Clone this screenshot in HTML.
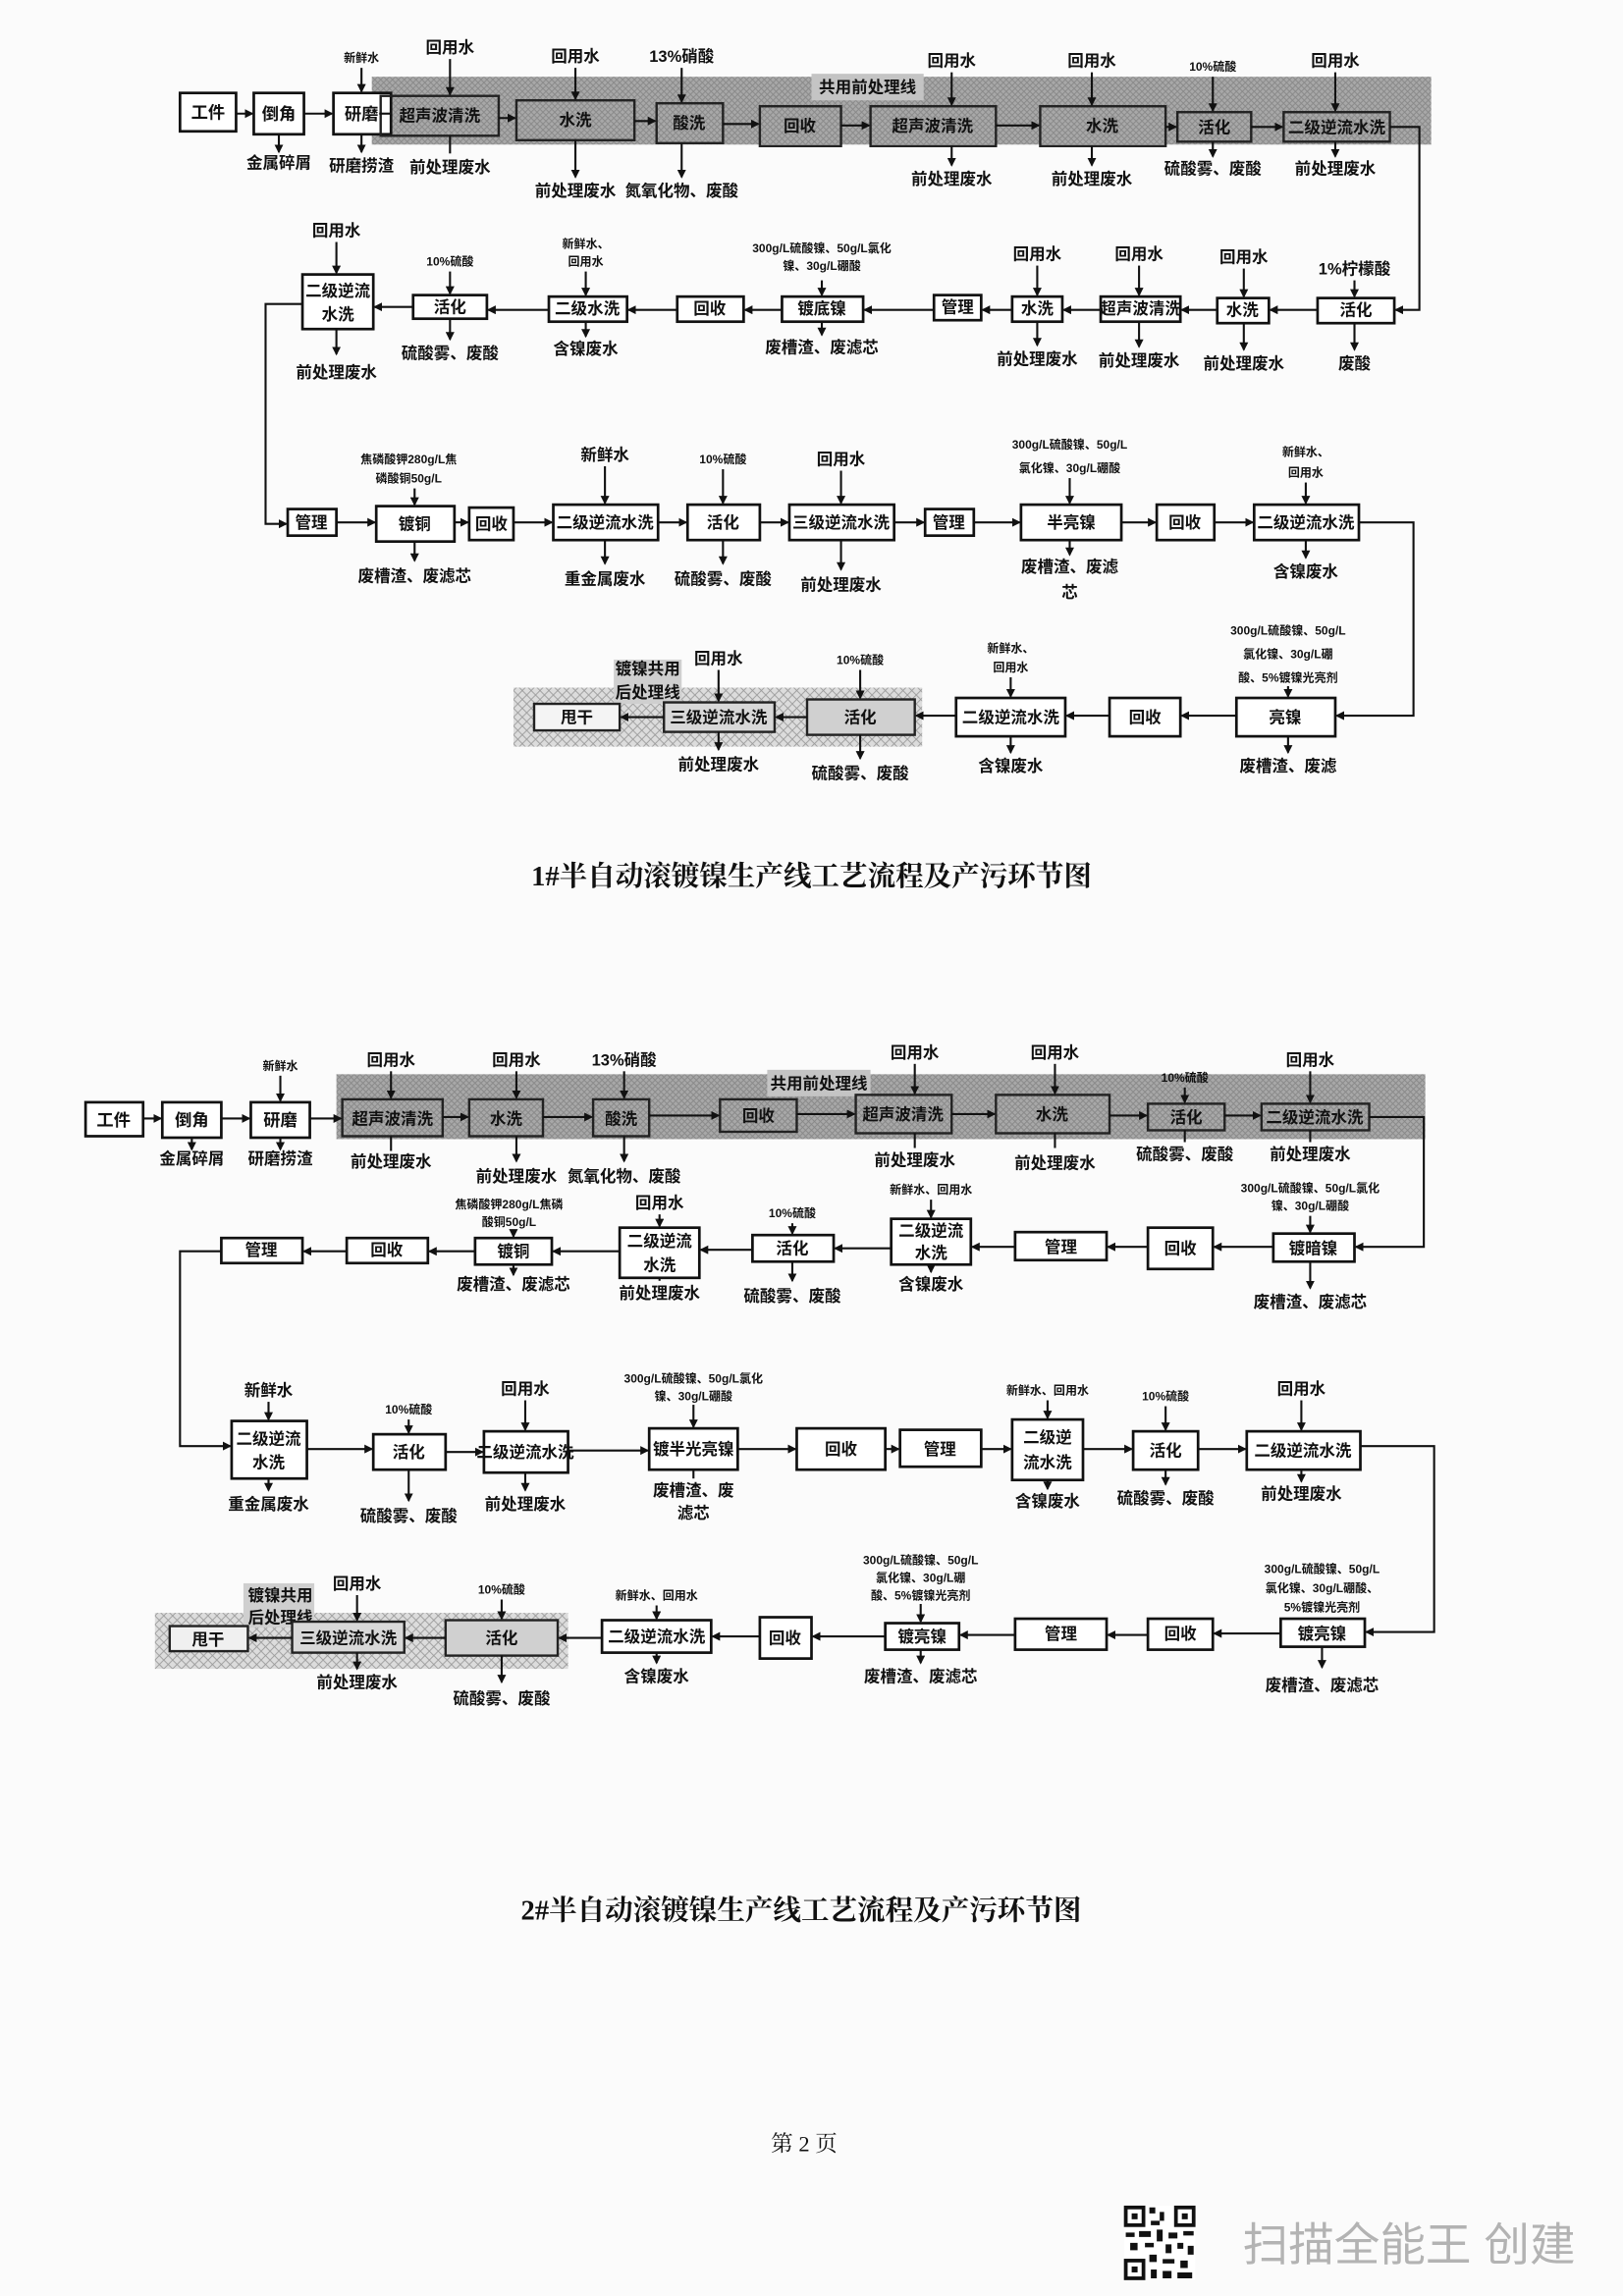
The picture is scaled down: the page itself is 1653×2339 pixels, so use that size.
<!DOCTYPE html>
<html><head><meta charset="utf-8">
<style>
html,body{margin:0;padding:0;background:#fbfbfb;}
svg{display:block;}
text{font-family:"Liberation Sans","Noto Sans CJK SC",sans-serif;font-weight:bold;fill:#111;text-anchor:middle;}
.s{font-size:11px;}
.t{font-size:8px;}
.b{font-size:11.5px;}
rect.x{fill:#fff;stroke:#111;stroke-width:1.8;}
rect.g{fill:none;stroke:#222;stroke-width:1.6;}
line,polyline{stroke:#111;stroke-width:1.4;fill:none;}
.h{stroke-width:2;}
</style></head><body>
<svg width="1653" height="2339" viewBox="0 0 1100 1556" preserveAspectRatio="none" xmlns="http://www.w3.org/2000/svg">
<defs>
<marker id="a" markerWidth="6" markerHeight="6" refX="5" refY="3" orient="auto" markerUnits="userSpaceOnUse"><path d="M0,0 L6,3 L0,6 z" fill="#111"/></marker>
<pattern id="p" width="4" height="4" patternUnits="userSpaceOnUse"><rect width="4" height="4" fill="#a8a8a8"/><path d="M0,0 L4,4 M4,0 L0,4" stroke="#888" stroke-width="0.6"/></pattern>
<pattern id="q" width="6" height="6" patternUnits="userSpaceOnUse"><rect width="6" height="6" fill="#dcdcdc"/><path d="M0,0 L6,6 M6,0 L0,6" stroke="#999" stroke-width="0.6"/></pattern>
</defs>

<!-- ============ DIAGRAM 1 ============ -->
<rect x="252" y="52" width="718" height="46" fill="url(#p)"/>
<rect x="550" y="50" width="76" height="18" fill="#c4c4c4"/>
<text class="s" x="588" y="63">共用前处理线</text>

<g>
<rect class="x" x="122" y="63" width="38" height="26"/><text class="b" x="141" y="80">工件</text>
<rect class="x" x="172" y="63" width="34" height="28"/><text class="b" x="189" y="81">倒角</text>
<rect class="x" x="226" y="63" width="39" height="28"/><text class="b" x="245" y="81">研磨</text>
<rect class="g" x="258" y="65" width="80" height="27"/><text class="s" x="298" y="82">超声波清洗</text>
<rect class="g" x="350" y="68" width="80" height="27"/><text class="s" x="390" y="85">水洗</text>
<rect class="g" x="445" y="70" width="45" height="27"/><text class="s" x="467" y="87">酸洗</text>
<rect class="g" x="515" y="72" width="55" height="27"/><text class="s" x="542" y="89">回收</text>
<rect class="g" x="590" y="72" width="85" height="27"/><text class="s" x="632" y="89">超声波清洗</text>
<rect class="g" x="705" y="72" width="85" height="27"/><text class="s" x="747" y="89">水洗</text>
<rect class="g" x="798" y="76" width="50" height="20"/><text class="s" x="823" y="90">活化</text>
<rect class="g" x="870" y="76" width="72" height="20"/><text class="s" x="906" y="90">二级逆流水洗</text>
</g>
<g class="h">
<line x1="160" y1="77" x2="171" y2="77" marker-end="url(#a)"/>
<line x1="206" y1="77" x2="225" y2="77" marker-end="url(#a)"/>
<line x1="265" y1="77" x2="257" y2="77"/>
<line x1="338" y1="80" x2="349" y2="80" marker-end="url(#a)"/>
<line x1="430" y1="82" x2="444" y2="82" marker-end="url(#a)"/>
<line x1="490" y1="84" x2="514" y2="84" marker-end="url(#a)"/>
<line x1="570" y1="85" x2="589" y2="85" marker-end="url(#a)"/>
<line x1="675" y1="85" x2="704" y2="85" marker-end="url(#a)"/>
<line x1="790" y1="86" x2="797" y2="86" marker-end="url(#a)"/>
<line x1="848" y1="86" x2="869" y2="86" marker-end="url(#a)"/>
<polyline points="942,86 962,86 962,210 946,210" marker-end="url(#a)"/>
</g>
<text class="t" x="245" y="42">新鲜水</text><line x1="245" y1="46" x2="245" y2="62" marker-end="url(#a)"/>
<line x1="189" y1="91" x2="189" y2="103" marker-end="url(#a)"/><text class="s" x="189" y="114">金属碎屑</text>
<line x1="245" y1="91" x2="245" y2="103" marker-end="url(#a)"/><text class="s" x="245" y="116">研磨捞渣</text>
<text class="s" x="305" y="36">回用水</text><line x1="305" y1="40" x2="305" y2="64" marker-end="url(#a)"/>
<line x1="305" y1="92" x2="305" y2="104"/><text class="s" x="305" y="117">前处理废水</text>
<text class="s" x="390" y="42">回用水</text><line x1="390" y1="46" x2="390" y2="67" marker-end="url(#a)"/>
<line x1="390" y1="95" x2="390" y2="120" marker-end="url(#a)"/><text class="s" x="390" y="133">前处理废水</text>
<text class="s" x="462" y="42">13%硝酸</text><line x1="462" y1="46" x2="462" y2="69" marker-end="url(#a)"/>
<line x1="462" y1="97" x2="462" y2="120" marker-end="url(#a)"/><text class="s" x="462" y="133">氮氧化物、废酸</text>
<text class="s" x="645" y="45">回用水</text><line x1="645" y1="49" x2="645" y2="71" marker-end="url(#a)"/>
<line x1="645" y1="99" x2="645" y2="112" marker-end="url(#a)"/><text class="s" x="645" y="125">前处理废水</text>
<text class="s" x="740" y="45">回用水</text><line x1="740" y1="49" x2="740" y2="71" marker-end="url(#a)"/>
<line x1="740" y1="99" x2="740" y2="112" marker-end="url(#a)"/><text class="s" x="740" y="125">前处理废水</text>
<text class="t" x="822" y="48">10%硫酸</text><line x1="822" y1="52" x2="822" y2="75" marker-end="url(#a)"/>
<line x1="822" y1="96" x2="822" y2="106" marker-end="url(#a)"/><text class="s" x="822" y="118">硫酸雾、废酸</text>
<text class="s" x="905" y="45">回用水</text><line x1="905" y1="49" x2="905" y2="75" marker-end="url(#a)"/>
<line x1="905" y1="96" x2="905" y2="106" marker-end="url(#a)"/><text class="s" x="905" y="118">前处理废水</text>

<!-- row 2 -->
<rect class="x" x="205" y="186" width="48" height="37"/><text class="s" x="229" y="201">二级逆流</text><text class="s" x="229" y="217">水洗</text>
<rect class="x" x="280" y="200" width="50" height="16"/><text class="s" x="305" y="212">活化</text>
<rect class="x" x="372" y="201" width="53" height="17"/><text class="s" x="398" y="213">二级水洗</text>
<rect class="x" x="459" y="201" width="45" height="17"/><text class="s" x="481" y="213">回收</text>
<rect class="x" x="530" y="201" width="55" height="17"/><text class="s" x="557" y="213">镀底镍</text>
<rect class="x" x="633" y="200" width="32" height="17"/><text class="s" x="649" y="212">管理</text>
<rect class="x" x="686" y="201" width="34" height="17"/><text class="s" x="703" y="213">水洗</text>
<rect class="x" x="746" y="201" width="54" height="17"/><text class="s" x="773" y="213">超声波清洗</text>
<rect class="x" x="825" y="202" width="35" height="17"/><text class="s" x="842" y="214">水洗</text>
<rect class="x" x="893" y="202" width="52" height="17"/><text class="s" x="919" y="214">活化</text>
<g class="h">
<line x1="893" y1="210" x2="861" y2="210" marker-end="url(#a)"/>
<line x1="825" y1="210" x2="801" y2="210" marker-end="url(#a)"/>
<line x1="746" y1="210" x2="721" y2="210" marker-end="url(#a)"/>
<line x1="686" y1="210" x2="666" y2="210" marker-end="url(#a)"/>
<line x1="633" y1="210" x2="586" y2="210" marker-end="url(#a)"/>
<line x1="530" y1="210" x2="505" y2="210" marker-end="url(#a)"/>
<line x1="459" y1="210" x2="426" y2="210" marker-end="url(#a)"/>
<line x1="372" y1="210" x2="331" y2="210" marker-end="url(#a)"/>
<line x1="280" y1="208" x2="254" y2="208" marker-end="url(#a)"/>
<polyline points="205,206 180,206 180,355 194,355" marker-end="url(#a)"/>
</g>
<text class="s" x="228" y="160">回用水</text><line x1="228" y1="164" x2="228" y2="185" marker-end="url(#a)"/>
<line x1="228" y1="223" x2="228" y2="240" marker-end="url(#a)"/><text class="s" x="228" y="256">前处理废水</text>
<text class="t" x="305" y="180">10%硫酸</text><line x1="305" y1="184" x2="305" y2="199" marker-end="url(#a)"/>
<line x1="305" y1="216" x2="305" y2="230" marker-end="url(#a)"/><text class="s" x="305" y="243">硫酸雾、废酸</text>
<text class="t" x="397" y="168">新鲜水、</text><text class="t" x="397" y="180">回用水</text><line x1="397" y1="184" x2="397" y2="200" marker-end="url(#a)"/>
<line x1="397" y1="218" x2="397" y2="228" marker-end="url(#a)"/><text class="s" x="397" y="240">含镍废水</text>
<text class="t" x="557" y="171">300g/L硫酸镍、50g/L氯化</text><text class="t" x="557" y="183">镍、30g/L硼酸</text>
<line x1="557" y1="190" x2="557" y2="200" marker-end="url(#a)"/>
<line x1="557" y1="218" x2="557" y2="227" marker-end="url(#a)"/><text class="s" x="557" y="239">废槽渣、废滤芯</text>
<text class="s" x="703" y="176">回用水</text><line x1="703" y1="180" x2="703" y2="200" marker-end="url(#a)"/>
<line x1="703" y1="218" x2="703" y2="234" marker-end="url(#a)"/><text class="s" x="703" y="247">前处理废水</text>
<text class="s" x="772" y="176">回用水</text><line x1="772" y1="180" x2="772" y2="200" marker-end="url(#a)"/>
<line x1="772" y1="218" x2="772" y2="235" marker-end="url(#a)"/><text class="s" x="772" y="248">前处理废水</text>
<text class="s" x="843" y="178">回用水</text><line x1="843" y1="182" x2="843" y2="201" marker-end="url(#a)"/>
<line x1="843" y1="219" x2="843" y2="237" marker-end="url(#a)"/><text class="s" x="843" y="250">前处理废水</text>
<text class="s" x="918" y="186">1%柠檬酸</text><line x1="918" y1="190" x2="918" y2="201" marker-end="url(#a)"/>
<line x1="918" y1="219" x2="918" y2="237" marker-end="url(#a)"/><text class="s" x="918" y="250">废酸</text>

<!-- row 3 -->
<rect class="x" x="195" y="345" width="33" height="18"/><text class="s" x="211" y="358">管理</text>
<rect class="x" x="255" y="343" width="53" height="24"/><text class="s" x="281" y="359">镀铜</text>
<rect class="x" x="318" y="344" width="30" height="22"/><text class="s" x="333" y="359">回收</text>
<rect class="x" x="375" y="342" width="71" height="24"/><text class="s" x="410" y="358">二级逆流水洗</text>
<rect class="x" x="466" y="342" width="49" height="24"/><text class="s" x="490" y="358">活化</text>
<rect class="x" x="535" y="342" width="71" height="24"/><text class="s" x="570" y="358">三级逆流水洗</text>
<rect class="x" x="627" y="345" width="33" height="18"/><text class="s" x="643" y="358">管理</text>
<rect class="x" x="692" y="342" width="68" height="24"/><text class="s" x="726" y="358">半亮镍</text>
<rect class="x" x="784" y="342" width="39" height="24"/><text class="s" x="803" y="358">回收</text>
<rect class="x" x="850" y="342" width="71" height="24"/><text class="s" x="885" y="358">二级逆流水洗</text>
<g class="h">
<line x1="228" y1="354" x2="254" y2="354" marker-end="url(#a)"/>
<line x1="308" y1="354" x2="317" y2="354" marker-end="url(#a)"/>
<line x1="348" y1="354" x2="374" y2="354" marker-end="url(#a)"/>
<line x1="446" y1="354" x2="465" y2="354" marker-end="url(#a)"/>
<line x1="515" y1="354" x2="534" y2="354" marker-end="url(#a)"/>
<line x1="606" y1="354" x2="626" y2="354" marker-end="url(#a)"/>
<line x1="660" y1="354" x2="691" y2="354" marker-end="url(#a)"/>
<line x1="760" y1="354" x2="783" y2="354" marker-end="url(#a)"/>
<line x1="823" y1="354" x2="849" y2="354" marker-end="url(#a)"/>
<polyline points="921,354 958,354 958,485 906,485" marker-end="url(#a)"/>
</g>
<text class="t" x="277" y="314">焦磷酸钾280g/L焦</text><text class="t" x="277" y="327">磷酸铜50g/L</text>
<line x1="281" y1="331" x2="281" y2="342" marker-end="url(#a)"/>
<line x1="281" y1="367" x2="281" y2="380" marker-end="url(#a)"/><text class="s" x="281" y="394">废槽渣、废滤芯</text>
<text class="s" x="410" y="312">新鲜水</text><line x1="410" y1="316" x2="410" y2="341" marker-end="url(#a)"/>
<line x1="410" y1="366" x2="410" y2="382" marker-end="url(#a)"/><text class="s" x="410" y="396">重金属废水</text>
<text class="t" x="490" y="314">10%硫酸</text><line x1="490" y1="318" x2="490" y2="341" marker-end="url(#a)"/>
<line x1="490" y1="366" x2="490" y2="382" marker-end="url(#a)"/><text class="s" x="490" y="396">硫酸雾、废酸</text>
<text class="s" x="570" y="315">回用水</text><line x1="570" y1="319" x2="570" y2="341" marker-end="url(#a)"/>
<line x1="570" y1="366" x2="570" y2="386" marker-end="url(#a)"/><text class="s" x="570" y="400">前处理废水</text>
<text class="t" x="725" y="304">300g/L硫酸镍、50g/L</text><text class="t" x="725" y="320">氯化镍、30g/L硼酸</text>
<line x1="725" y1="324" x2="725" y2="341" marker-end="url(#a)"/>
<line x1="725" y1="366" x2="725" y2="376" marker-end="url(#a)"/><text class="s" x="725" y="388">废槽渣、废滤</text><text class="s" x="725" y="405">芯</text>
<text class="t" x="885" y="309">新鲜水、</text><text class="t" x="885" y="323">回用水</text><line x1="885" y1="327" x2="885" y2="341" marker-end="url(#a)"/>
<line x1="885" y1="366" x2="885" y2="378" marker-end="url(#a)"/><text class="s" x="885" y="391">含镍废水</text>

<!-- row 4 -->
<rect x="348" y="466" width="277" height="40" fill="url(#q)"/>
<rect x="416" y="447" width="46" height="30" fill="#cfcfcf"/>
<text class="s" x="439" y="457">镀镍共用</text><text class="s" x="439" y="473">后处理线</text>
<rect class="g" x="362" y="477" width="58" height="18" style="fill:#f4f4f4"/><text class="s" x="391" y="490">甩干</text>
<rect class="g" x="450" y="476" width="75" height="20" style="fill:#d8d8d8"/><text class="s" x="487" y="490">三级逆流水洗</text>
<rect class="g" x="547" y="474" width="73" height="24" style="fill:#d0d0d0"/><text class="s" x="583" y="490">活化</text>
<rect class="x" x="648" y="473" width="74" height="26"/><text class="s" x="685" y="490">二级逆流水洗</text>
<rect class="x" x="752" y="473" width="48" height="26"/><text class="s" x="776" y="490">回收</text>
<rect class="x" x="838" y="473" width="67" height="26"/><text class="s" x="871" y="490">亮镍</text>
<g class="h">
<line x1="838" y1="485" x2="801" y2="485" marker-end="url(#a)"/>
<line x1="752" y1="485" x2="723" y2="485" marker-end="url(#a)"/>
<line x1="648" y1="485" x2="621" y2="485" marker-end="url(#a)"/>
<line x1="547" y1="486" x2="526" y2="486" marker-end="url(#a)"/>
<line x1="450" y1="486" x2="421" y2="486" marker-end="url(#a)"/>
</g>
<text class="t" x="873" y="430">300g/L硫酸镍、50g/L</text><text class="t" x="873" y="446">氯化镍、30g/L硼</text><text class="t" x="873" y="462">酸、5%镀镍光亮剂</text>
<line x1="873" y1="465" x2="873" y2="472" marker-end="url(#a)"/>
<line x1="873" y1="499" x2="873" y2="510" marker-end="url(#a)"/><text class="s" x="873" y="523">废槽渣、废滤</text>
<text class="t" x="685" y="442">新鲜水、</text><text class="t" x="685" y="455">回用水</text><line x1="685" y1="459" x2="685" y2="472" marker-end="url(#a)"/>
<line x1="685" y1="499" x2="685" y2="510" marker-end="url(#a)"/><text class="s" x="685" y="523">含镍废水</text>
<text class="t" x="583" y="450">10%硫酸</text><line x1="583" y1="454" x2="583" y2="473" marker-end="url(#a)"/>
<line x1="583" y1="498" x2="583" y2="514" marker-end="url(#a)"/><text class="s" x="583" y="528">硫酸雾、废酸</text>
<text class="s" x="487" y="450">回用水</text><line x1="487" y1="454" x2="487" y2="475" marker-end="url(#a)"/>
<line x1="487" y1="496" x2="487" y2="508" marker-end="url(#a)"/><text class="s" x="487" y="522">前处理废水</text>

<text x="550" y="600" style="font-family:'Liberation Serif','Noto Serif CJK SC',serif;font-size:19px;">1#半自动滚镀镍生产线工艺流程及产污环节图</text>

<!-- ============ DIAGRAM 2 ============ -->
<rect x="228" y="728" width="738" height="44" fill="url(#p)"/>
<rect x="520" y="725" width="70" height="18" fill="#c4c4c4"/>
<text class="s" x="555" y="738">共用前处理线</text>
<rect class="x" x="58" y="747" width="39" height="23"/><text class="b" x="77" y="763">工件</text>
<rect class="x" x="110" y="747" width="40" height="24"/><text class="b" x="130" y="763">倒角</text>
<rect class="x" x="170" y="747" width="40" height="24"/><text class="b" x="190" y="763">研磨</text>
<rect class="g" x="232" y="745" width="68" height="25"/><text class="s" x="266" y="762">超声波清洗</text>
<rect class="g" x="318" y="745" width="50" height="25"/><text class="s" x="343" y="762">水洗</text>
<rect class="g" x="402" y="745" width="38" height="25"/><text class="s" x="421" y="762">酸洗</text>
<rect class="g" x="488" y="745" width="52" height="22"/><text class="s" x="514" y="760">回收</text>
<rect class="g" x="580" y="742" width="65" height="26"/><text class="s" x="612" y="759">超声波清洗</text>
<rect class="g" x="675" y="742" width="77" height="26"/><text class="s" x="713" y="759">水洗</text>
<rect class="g" x="778" y="748" width="52" height="18"/><text class="s" x="804" y="761">活化</text>
<rect class="g" x="855" y="748" width="73" height="18"/><text class="s" x="891" y="761">二级逆流水洗</text>
<g class="h">
<line x1="97" y1="758" x2="109" y2="758" marker-end="url(#a)"/>
<line x1="150" y1="758" x2="169" y2="758" marker-end="url(#a)"/>
<line x1="210" y1="758" x2="231" y2="758" marker-end="url(#a)"/>
<line x1="300" y1="757" x2="317" y2="757" marker-end="url(#a)"/>
<line x1="368" y1="757" x2="401" y2="757" marker-end="url(#a)"/>
<line x1="440" y1="756" x2="487" y2="756" marker-end="url(#a)"/>
<line x1="540" y1="755" x2="579" y2="755" marker-end="url(#a)"/>
<line x1="645" y1="755" x2="674" y2="755" marker-end="url(#a)"/>
<line x1="752" y1="756" x2="777" y2="756" marker-end="url(#a)"/>
<line x1="830" y1="756" x2="854" y2="756" marker-end="url(#a)"/>
<polyline points="928,757 965,757 965,845 919,845" marker-end="url(#a)"/>
</g>
<text class="t" x="190" y="725">新鲜水</text><line x1="190" y1="729" x2="190" y2="746" marker-end="url(#a)"/>
<line x1="130" y1="771" x2="130" y2="779" marker-end="url(#a)"/><text class="s" x="130" y="789">金属碎屑</text>
<line x1="190" y1="771" x2="190" y2="779" marker-end="url(#a)"/><text class="s" x="190" y="789">研磨捞渣</text>
<text class="s" x="265" y="722">回用水</text><line x1="265" y1="726" x2="265" y2="744" marker-end="url(#a)"/>
<line x1="265" y1="770" x2="265" y2="780"/><text class="s" x="265" y="791">前处理废水</text>
<text class="s" x="350" y="722">回用水</text><line x1="350" y1="726" x2="350" y2="744" marker-end="url(#a)"/>
<line x1="350" y1="770" x2="350" y2="787" marker-end="url(#a)"/><text class="s" x="350" y="801">前处理废水</text>
<text class="s" x="423" y="722">13%硝酸</text><line x1="423" y1="726" x2="423" y2="744" marker-end="url(#a)"/>
<line x1="423" y1="770" x2="423" y2="787" marker-end="url(#a)"/><text class="s" x="423" y="801">氮氧化物、废酸</text>
<text class="s" x="620" y="717">回用水</text><line x1="620" y1="721" x2="620" y2="741" marker-end="url(#a)"/>
<line x1="620" y1="768" x2="620" y2="778"/><text class="s" x="620" y="790">前处理废水</text>
<text class="s" x="715" y="717">回用水</text><line x1="715" y1="721" x2="715" y2="741" marker-end="url(#a)"/>
<line x1="715" y1="768" x2="715" y2="778"/><text class="s" x="715" y="792">前处理废水</text>
<text class="t" x="803" y="733">10%硫酸</text><line x1="803" y1="737" x2="803" y2="747" marker-end="url(#a)"/>
<line x1="803" y1="766" x2="803" y2="774"/><text class="s" x="803" y="786">硫酸雾、废酸</text>
<text class="s" x="888" y="722">回用水</text><line x1="888" y1="726" x2="888" y2="747" marker-end="url(#a)"/>
<line x1="888" y1="766" x2="888" y2="774"/><text class="s" x="888" y="786">前处理废水</text>

<!-- d2 row 2 -->
<rect class="x" x="863" y="836" width="55" height="19"/><text class="s" x="890" y="850">镀暗镍</text>
<rect class="x" x="778" y="832" width="44" height="28"/><text class="s" x="800" y="850">回收</text>
<rect class="x" x="688" y="835" width="62" height="19"/><text class="s" x="719" y="849">管理</text>
<rect class="x" x="604" y="826" width="54" height="31"/><text class="s" x="631" y="838">二级逆流</text><text class="s" x="631" y="853">水洗</text>
<rect class="x" x="510" y="837" width="55" height="18"/><text class="s" x="537" y="850">活化</text>
<rect class="x" x="420" y="832" width="54" height="34"/><text class="s" x="447" y="845">二级逆流</text><text class="s" x="447" y="861">水洗</text>
<rect class="x" x="322" y="839" width="52" height="18"/><text class="s" x="348" y="852">镀铜</text>
<rect class="x" x="235" y="839" width="55" height="17"/><text class="s" x="262" y="851">回收</text>
<rect class="x" x="150" y="839" width="55" height="17"/><text class="s" x="177" y="851">管理</text>
<g class="h">
<line x1="863" y1="845" x2="823" y2="845" marker-end="url(#a)"/>
<line x1="778" y1="845" x2="751" y2="845" marker-end="url(#a)"/>
<line x1="688" y1="845" x2="659" y2="845" marker-end="url(#a)"/>
<line x1="604" y1="846" x2="566" y2="846" marker-end="url(#a)"/>
<line x1="510" y1="847" x2="475" y2="847" marker-end="url(#a)"/>
<line x1="420" y1="848" x2="375" y2="848" marker-end="url(#a)"/>
<line x1="322" y1="848" x2="291" y2="848" marker-end="url(#a)"/>
<line x1="235" y1="848" x2="206" y2="848" marker-end="url(#a)"/>
<polyline points="150,848 122,848 122,980 156,980" marker-end="url(#a)"/>
</g>
<text class="t" x="888" y="808">300g/L硫酸镍、50g/L氯化</text><text class="t" x="888" y="820">镍、30g/L硼酸</text>
<line x1="888" y1="824" x2="888" y2="835" marker-end="url(#a)"/>
<line x1="888" y1="855" x2="888" y2="873" marker-end="url(#a)"/><text class="s" x="888" y="886">废槽渣、废滤芯</text>
<text class="t" x="631" y="809">新鲜水、回用水</text><line x1="631" y1="813" x2="631" y2="825" marker-end="url(#a)"/>
<line x1="631" y1="857" x2="631" y2="862" marker-end="url(#a)"/><text class="s" x="631" y="874">含镍废水</text>
<text class="t" x="537" y="825">10%硫酸</text><line x1="537" y1="829" x2="537" y2="836" marker-end="url(#a)"/>
<line x1="537" y1="855" x2="537" y2="868" marker-end="url(#a)"/><text class="s" x="537" y="882">硫酸雾、废酸</text>
<text class="s" x="447" y="819">回用水</text><line x1="447" y1="823" x2="447" y2="831" marker-end="url(#a)"/>
<line x1="447" y1="866" x2="447" y2="868"/><text class="s" x="447" y="880">前处理废水</text>
<text class="t" x="345" y="819">焦磷酸钾280g/L焦磷</text><text class="t" x="345" y="831">酸铜50g/L</text>
<line x1="348" y1="834" x2="348" y2="838" marker-end="url(#a)"/>
<line x1="348" y1="857" x2="348" y2="864" marker-end="url(#a)"/><text class="s" x="348" y="874">废槽渣、废滤芯</text>

<!-- d2 row 3 -->
<rect class="x" x="157" y="963" width="51" height="39"/><text class="s" x="182" y="979">二级逆流</text><text class="s" x="182" y="995">水洗</text>
<rect class="x" x="253" y="972" width="49" height="24"/><text class="s" x="277" y="988">活化</text>
<rect class="x" x="328" y="970" width="57" height="28"/><text class="s" x="356" y="988">二级逆流水洗</text>
<rect class="x" x="440" y="968" width="60" height="28"/><text class="s" x="470" y="986">镀半光亮镍</text>
<rect class="x" x="540" y="968" width="60" height="28"/><text class="s" x="570" y="986">回收</text>
<rect class="x" x="610" y="969" width="55" height="25"/><text class="s" x="637" y="986">管理</text>
<rect class="x" x="686" y="962" width="48" height="41"/><text class="s" x="710" y="978">二级逆</text><text class="s" x="710" y="995">流水洗</text>
<rect class="x" x="768" y="970" width="44" height="26"/><text class="s" x="790" y="987">活化</text>
<rect class="x" x="845" y="970" width="77" height="26"/><text class="s" x="883" y="987">二级逆流水洗</text>
<g class="h">
<line x1="208" y1="982" x2="252" y2="982" marker-end="url(#a)"/>
<line x1="302" y1="984" x2="327" y2="984" marker-end="url(#a)"/>
<line x1="385" y1="983" x2="439" y2="983" marker-end="url(#a)"/>
<line x1="500" y1="982" x2="539" y2="982" marker-end="url(#a)"/>
<line x1="600" y1="982" x2="609" y2="982" marker-end="url(#a)"/>
<line x1="665" y1="982" x2="685" y2="982" marker-end="url(#a)"/>
<line x1="734" y1="982" x2="767" y2="982" marker-end="url(#a)"/>
<line x1="812" y1="982" x2="844" y2="982" marker-end="url(#a)"/>
<polyline points="922,980 972,980 972,1106 926,1106" marker-end="url(#a)"/>
</g>
<text class="s" x="182" y="946">新鲜水</text><line x1="182" y1="950" x2="182" y2="962" marker-end="url(#a)"/>
<line x1="182" y1="1002" x2="182" y2="1010" marker-end="url(#a)"/><text class="s" x="182" y="1023">重金属废水</text>
<text class="t" x="277" y="958">10%硫酸</text><line x1="277" y1="962" x2="277" y2="971" marker-end="url(#a)"/>
<line x1="277" y1="996" x2="277" y2="1017" marker-end="url(#a)"/><text class="s" x="277" y="1031">硫酸雾、废酸</text>
<text class="s" x="356" y="945">回用水</text><line x1="356" y1="949" x2="356" y2="969" marker-end="url(#a)"/>
<line x1="356" y1="998" x2="356" y2="1010" marker-end="url(#a)"/><text class="s" x="356" y="1023">前处理废水</text>
<text class="t" x="470" y="937">300g/L硫酸镍、50g/L氯化</text><text class="t" x="470" y="949">镍、30g/L硼酸</text>
<line x1="470" y1="952" x2="470" y2="967" marker-end="url(#a)"/>
<line x1="470" y1="996" x2="470" y2="1002"/><text class="s" x="470" y="1014">废槽渣、废</text><text class="s" x="470" y="1029">滤芯</text>
<text class="t" x="710" y="945">新鲜水、回用水</text><line x1="710" y1="949" x2="710" y2="961" marker-end="url(#a)"/>
<line x1="710" y1="1003" x2="710" y2="1009" marker-end="url(#a)"/><text class="s" x="710" y="1021">含镍废水</text>
<text class="t" x="790" y="949">10%硫酸</text><line x1="790" y1="953" x2="790" y2="969" marker-end="url(#a)"/>
<line x1="790" y1="996" x2="790" y2="1006" marker-end="url(#a)"/><text class="s" x="790" y="1019">硫酸雾、废酸</text>
<text class="s" x="882" y="945">回用水</text><line x1="882" y1="949" x2="882" y2="969" marker-end="url(#a)"/>
<line x1="882" y1="996" x2="882" y2="1004" marker-end="url(#a)"/><text class="s" x="882" y="1016">前处理废水</text>

<!-- d2 row 4 -->
<rect x="105" y="1093" width="280" height="38" fill="url(#q)"/>
<rect x="165" y="1073" width="48" height="30" fill="#cfcfcf"/>
<text class="s" x="190" y="1085">镀镍共用</text><text class="s" x="190" y="1100">后处理线</text>
<rect class="g" x="115" y="1102" width="53" height="17" style="fill:#f0f0f0"/><text class="s" x="141" y="1115">甩干</text>
<rect class="g" x="198" y="1099" width="76" height="21" style="fill:#d8d8d8"/><text class="s" x="236" y="1114">三级逆流水洗</text>
<rect class="g" x="302" y="1098" width="76" height="24" style="fill:#d0d0d0"/><text class="s" x="340" y="1114">活化</text>
<rect class="x" x="408" y="1098" width="74" height="22"/><text class="s" x="445" y="1113">二级逆流水洗</text>
<rect class="x" x="515" y="1096" width="35" height="28"/><text class="s" x="532" y="1114">回收</text>
<rect class="x" x="600" y="1100" width="50" height="18"/><text class="s" x="625" y="1113">镀亮镍</text>
<rect class="x" x="688" y="1097" width="62" height="21"/><text class="s" x="719" y="1111">管理</text>
<rect class="x" x="778" y="1097" width="44" height="21"/><text class="s" x="800" y="1111">回收</text>
<rect class="x" x="868" y="1097" width="57" height="19"/><text class="s" x="896" y="1111">镀亮镍</text>
<g class="h">
<line x1="868" y1="1107" x2="823" y2="1107" marker-end="url(#a)"/>
<line x1="778" y1="1108" x2="751" y2="1108" marker-end="url(#a)"/>
<line x1="688" y1="1108" x2="651" y2="1108" marker-end="url(#a)"/>
<line x1="600" y1="1109" x2="551" y2="1109" marker-end="url(#a)"/>
<line x1="515" y1="1109" x2="483" y2="1109" marker-end="url(#a)"/>
<line x1="408" y1="1110" x2="379" y2="1110" marker-end="url(#a)"/>
<line x1="302" y1="1110" x2="275" y2="1110" marker-end="url(#a)"/>
<line x1="198" y1="1110" x2="169" y2="1110" marker-end="url(#a)"/>
</g>
<text class="t" x="896" y="1066">300g/L硫酸镍、50g/L</text><text class="t" x="896" y="1079">氯化镍、30g/L硼酸、</text><text class="t" x="896" y="1092">5%镀镍光亮剂</text>
<line x1="896" y1="1116" x2="896" y2="1130" marker-end="url(#a)"/><text class="s" x="896" y="1146">废槽渣、废滤芯</text>
<text class="t" x="624" y="1060">300g/L硫酸镍、50g/L</text><text class="t" x="624" y="1072">氯化镍、30g/L硼</text><text class="t" x="624" y="1084">酸、5%镀镍光亮剂</text>
<line x1="624" y1="1087" x2="624" y2="1099" marker-end="url(#a)"/>
<line x1="624" y1="1118" x2="624" y2="1127" marker-end="url(#a)"/><text class="s" x="624" y="1140">废槽渣、废滤芯</text>
<text class="t" x="445" y="1084">新鲜水、回用水</text><line x1="445" y1="1088" x2="445" y2="1097" marker-end="url(#a)"/>
<line x1="445" y1="1120" x2="445" y2="1127" marker-end="url(#a)"/><text class="s" x="445" y="1140">含镍废水</text>
<text class="t" x="340" y="1080">10%硫酸</text><line x1="340" y1="1084" x2="340" y2="1097" marker-end="url(#a)"/>
<line x1="340" y1="1122" x2="340" y2="1140" marker-end="url(#a)"/><text class="s" x="340" y="1155">硫酸雾、废酸</text>
<text class="s" x="242" y="1077">回用水</text><line x1="242" y1="1081" x2="242" y2="1098" marker-end="url(#a)"/>
<line x1="242" y1="1120" x2="242" y2="1131" marker-end="url(#a)"/><text class="s" x="242" y="1144">前处理废水</text>

<text x="543" y="1301" style="font-family:'Liberation Serif','Noto Serif CJK SC',serif;font-size:19px;">2#半自动滚镀镍生产线工艺流程及产污环节图</text>

<text x="545" y="1458" style="font-family:'Liberation Serif','Noto Serif CJK SC',serif;font-size:15px;font-weight:normal;">第 2 页</text>

<!-- QR -->
<g>
<rect x="762" y="1495" width="48" height="50" fill="#fff"/>
<rect x="763" y="1496" width="12" height="12" fill="none" stroke="#111" stroke-width="2.5"/>
<rect x="797" y="1496" width="12" height="12" fill="none" stroke="#111" stroke-width="2.5"/>
<rect x="763" y="1532" width="12" height="12" fill="none" stroke="#111" stroke-width="2.5"/>
<rect x="767" y="1500" width="4" height="4" fill="#111"/><rect x="801" y="1500" width="4" height="4" fill="#111"/><rect x="767" y="1536" width="4" height="4" fill="#111"/>
<path d="M779 1496h4v4h-4zM786 1499h3v6h-3zM780 1505h6v3h-6zM763 1513h6v3h-6zM772 1512h8v4h-8zM784 1511h4v8h-4zM792 1513h6v4h-6zM802 1512h7v3h-7zM766 1520h5v5h-5zM776 1520h6v3h-6zM790 1521h4v6h-4zM798 1520h4v4h-4zM805 1522h4v6h-4zM779 1528h5v5h-5zM788 1531h8v3h-8zM800 1532h5v5h-5zM780 1538h4v6h-4zM788 1539h6v5h-6zM798 1540h10v4h-10z" fill="#111"/>
</g>
<text x="955" y="1532" style="font-size:31px;font-weight:normal;fill:#b3b3b3;">扫描全能王 创建</text>
</svg>
</body></html>
